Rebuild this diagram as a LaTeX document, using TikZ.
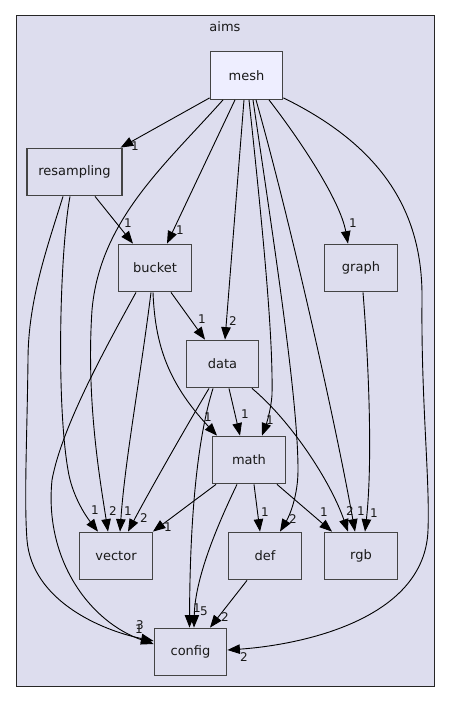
\documentclass[tikz,border=0pt]{standalone}
\usepackage{fontspec}
\setmainfont{DejaVu Sans}
\usetikzlibrary{arrows.meta}
\definecolor{clfill}{HTML}{DDDDEE}
\definecolor{mainfill}{HTML}{EEEEFF}
\definecolor{bord}{HTML}{444444}
\begin{document}
\begin{tikzpicture}[x=1pt,y=-1pt,
  dirbox/.style={draw=bord, line width=1.3pt, fill=clfill, minimum width=72.5pt, minimum height=47.5pt, inner sep=0pt, text=black!90, font=\fontsize{13}{15}\selectfont},
  e/.style={draw=black, line width=0.9pt, -{Triangle[length=12.5pt,width=9.5pt]}},
  lbl/.style={inner sep=0pt, text=black!90, font=\fontsize{12}{14}\selectfont}]
\useasboundingbox[fill=white] (0,0) rectangle (451,703);
\draw[fill=clfill, draw=black!85, line width=1pt] (16,16) rectangle (434,686);
\node[lbl, font=\fontsize{13}{15}\selectfont] (aims) at (225,27) {aims};

\node[dirbox, fill=mainfill] (mesh) at (246.5,75.5) {mesh};
\node[dirbox, minimum width=95pt] (resampling) at (74.5,172) {resampling};
\node[dirbox] (bucket) at (155,268) {bucket};
\node[dirbox] (graph) at (361,268) {graph};
\node[dirbox] (data) at (222.5,364) {data};
\node[dirbox] (math) at (249,460) {math};
\node[dirbox] (vector) at (116,556) {vector};
\node[dirbox] (def) at (265,556) {def};
\node[dirbox] (rgb) at (361,556) {rgb};
\node[dirbox] (config) at (190.5,652) {config};

% mesh edges
\draw[e] ([yshift=2pt]mesh.south west) -- ([xshift=-2pt]resampling.north east);
\draw[e] ([xshift=-23.5pt]mesh.south) .. controls (165,165) and (100,220) .. (92,310) .. controls (86,400) and (100,480) .. ([xshift=-8pt]vector.north);
\draw[e] ([xshift=-11.5pt]mesh.south) -- ([xshift=12pt]bucket.north);
\draw[e] ([xshift=-2.5pt]mesh.south) -- ([xshift=2.5pt]data.north);
\draw[e] ([xshift=2.5pt]mesh.south) .. controls (265,250) and (273,340) .. (272,395) .. controls (271,410) and (266,425) .. ([xshift=13pt]math.north);
\draw[e] ([xshift=6.5pt]mesh.south) .. controls (275,250) and (298,400) .. (298,470) .. controls (298,495) and (290,515) .. ([xshift=15pt]def.north);
\draw[e] ([xshift=9.5pt]mesh.south) .. controls (290,220) and (335,420) .. ([xshift=-6pt]rgb.north);
\draw[e] ([xshift=22.5pt]mesh.south) .. controls (300,140) and (340,200) .. ([xshift=-13pt]graph.north);
\draw[e] ([yshift=2pt]mesh.south east) .. controls (390,150) and (423,220) .. (422,300) .. controls (421,400) and (430,480) .. (428,530) .. controls (425,620) and (300,645) .. ([yshift=2pt]config.east);

% resampling edges
\draw[e] ([xshift=20.5pt]resampling.south) -- ([xshift=-22pt]bucket.north);
\draw[e] ([xshift=-11.5pt]resampling.south) .. controls (48,245) and (28,300) .. (28,360) .. controls (27,440) and (24,500) .. (27,540) .. controls (32,600) and (100,630) .. ([yshift=11pt]config.west);
\draw[e] ([xshift=-4.5pt]resampling.south) .. controls (60,250) and (56,400) .. (68,470) .. controls (72,495) and (85,515) .. ([xshift=-18pt]vector.north);

% bucket edges
\draw[e] ([xshift=16pt]bucket.south) -- ([xshift=-17.5pt]data.north);
\draw[e] ([xshift=-2pt]bucket.south) .. controls (155,340) and (165,380) .. ([xshift=-32pt]math.north);
\draw[e] ([xshift=-4pt]bucket.south) .. controls (140,380) and (125,460) .. ([xshift=4pt]vector.north);
\draw[e] ([xshift=-19pt]bucket.south) .. controls (110,340) and (62,425) .. (52,480) .. controls (44,560) and (90,622) .. ([yshift=8pt]config.west);

% data edges
\draw[e] ([xshift=6.5pt]data.south) -- ([xshift=-9pt]math.north);
\draw[e] ([xshift=-13.5pt]data.south) .. controls (190,420) and (150,490) .. ([xshift=12pt]vector.north);
\draw[e] ([xshift=-9.5pt]data.south) .. controls (200,430) and (190,500) .. ([xshift=-1pt]config.north);
\draw[e] ([xshift=29.5pt]data.south) .. controls (290,420) and (330,480) .. ([xshift=-13pt]rgb.north);

% graph edge
\draw[e] ([xshift=2pt]graph.south) .. controls (370,380) and (372,470) .. ([xshift=4pt]rgb.north);

% math edges
\draw[e] ([xshift=-33pt]math.south) -- (vector.north east);
\draw[e] ([xshift=5pt]math.south) -- ([xshift=-5pt]def.north);
\draw[e] ([xshift=28pt]math.south) -- ([xshift=-29pt]rgb.north);
\draw[e] ([xshift=-12pt]math.south) .. controls (215,530) and (195,580) .. ([xshift=3.5pt]config.north);

% def edge
\draw[e] ([xshift=-18pt]def.south) -- ([xshift=19.5pt]config.north);

% labels
\node[lbl] (l1) at (135,146) {1};
\node[lbl] (l2) at (113,511) {2};
\node[lbl] (l3) at (180,230) {1};
\node[lbl] (l4) at (233,321) {2};
\node[lbl] (l5) at (270,420) {1};
\node[lbl] (l6) at (293,519) {2};
\node[lbl] (l7) at (361,511) {1};
\node[lbl] (l8) at (353,223) {1};
\node[lbl] (l9) at (244,657) {2};
\node[lbl] (l10) at (128,223) {1};
\node[lbl] (l11) at (140,625) {3};
\node[lbl] (l12) at (95,510) {1};
\node[lbl] (l13) at (202,319) {1};
\node[lbl] (l14) at (208,417) {1};
\node[lbl] (l15) at (128,511) {1};
\node[lbl] (l16) at (139,629) {1};
\node[lbl] (l17) at (245,414) {1};
\node[lbl] (l18) at (144,518) {2};
\node[lbl] (l19) at (197,608) {1};
\node[lbl] (l20) at (350,511) {2};
\node[lbl] (l21) at (374,513) {1};
\node[lbl] (l22) at (168,527) {1};
\node[lbl] (l23) at (265,512) {1};
\node[lbl] (l24) at (324,512) {1};
\node[lbl] (l25) at (204,611) {5};
\node[lbl] (l26) at (225,617) {2};
\end{tikzpicture}
\end{document}
